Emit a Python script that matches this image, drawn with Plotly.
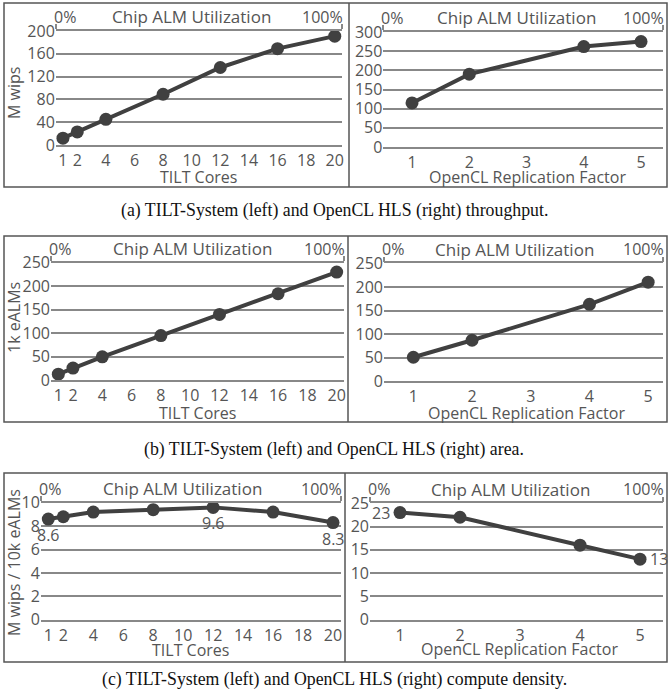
import plotly.graph_objects as go

W, H = 668, 698

# ---------------- data ----------------
tilt_cores = [1, 2, 4, 8, 12, 16, 20]
opencl_factor = [1, 2, 4, 5]

tilt_throughput = [12, 23, 45, 89, 136, 169, 191]        # M wips
opencl_throughput = [115, 190, 262, 275]                   # M wips
tilt_area = [13, 26, 50, 95, 140, 184, 230]                # 1k eALMs
opencl_area = [51, 87, 163, 210]                           # 1k eALMs
tilt_density = [8.6, 8.8, 9.2, 9.4, 9.6, 9.2, 8.3]         # M wips / 10k eALMs
opencl_density = [23, 22, 16, 13]

tilt_density_labels = ["8.6", "", "", "", "9.6", "", "8.3"]
opencl_density_labels = ["23", "", "", "13"]

tilt_ticks = [1, 2, 4, 6, 8, 10, 12, 14, 16, 18, 20]
opencl_ticks = [1, 2, 3, 4, 5]

left_ytitles = ["M wips", "1k eALMs", "M wips / 10k eALMs"]
xtitles = ["TILT Cores", "OpenCL Replication Factor"]
top_title = "Chip ALM Utilization"
top_ticktext = ["0%", "100%"]
captions = [
    "(a) TILT-System (left) and OpenCL HLS (right) throughput.",
    "(b) TILT-System (left) and OpenCL HLS (right) area.",
    "(c) TILT-System (left) and OpenCL HLS (right) compute density.",
]

# ---------------- layout geometry (pixels) ----------------
def px(x):
    return x / W

def py(y):
    return 1 - y / H

# (x0, x1, ytop, ybottom, xrange, yrange, yticks)
panels = [
    (55.8, 341.9, 31, 145, [0.5, 20.5], [0, 200], [0, 40, 80, 120, 160, 200]),
    (383.4, 663, 32, 147, [0.5, 5.384], [0, 300], [0, 50, 100, 150, 200, 250, 300]),
    (51.0, 344.0, 262.7, 380.3, [0.5, 20.5], [0, 250], [0, 50, 100, 150, 200, 250]),
    (384.0, 663, 263.3, 381.3, [0.5, 5.253], [0, 250], [0, 50, 100, 150, 200, 250]),
    (40.8, 340.5, 502.7, 619.7, [0.5, 20.5], [0, 10], [0, 2, 4, 6, 8, 10]),
    (370.0, 663, 503.3, 619.7, [0.5, 5.383], [0, 25], [0, 5, 10, 15, 20, 25]),
]
boxes = [(4, 667, 3, 187, 349), (4, 667, 236, 422, 348), (4, 667, 473, 662, 345)]
caption_y = [210, 449, 679]
ytitle_y = [93, 318, 563]
xtitle_pos = [(198, 177), (527, 177), (197, 413), (526, 413), (190, 650), (519, 649)]
toptitle_x = [191, 516, 192, 514, 182, 511]

GRAY = "#555555"
GRID = "#888888"
LINE = "#404040"
FONT = "Open Sans"
FS = 16

series = [
    (tilt_cores, tilt_throughput, None),
    (opencl_factor, opencl_throughput, None),
    (tilt_cores, tilt_area, None),
    (opencl_factor, opencl_area, None),
    (tilt_cores, tilt_density, tilt_density_labels),
    (opencl_factor, opencl_density, opencl_density_labels),
]

fig = go.Figure()
layout = dict(
    template="none",
    width=W, height=H, margin=dict(l=0, r=0, t=0, b=0, autoexpand=False),
    paper_bgcolor="white", plot_bgcolor="rgba(0,0,0,0)",
    showlegend=False, font=dict(family=FONT, size=FS, color=GRAY),
)
annotations = []
shapes = []

for i, (xs, ys, labels) in enumerate(series):
    n = i + 1
    sfx = "" if n == 1 else str(n)
    x0, x1, yt, yb, xr, yr, yt_vals = panels[i]
    fig.add_trace(go.Scatter(
        x=xs, y=ys, mode="lines+markers",
        line=dict(color=LINE, width=4),
        marker=dict(color=LINE, size=13),
        xaxis="x" + sfx, yaxis="y" + sfx, cliponaxis=False,
        hoverinfo="skip",
    ))
    if labels is not None:
        for xv, yv, lab in zip(xs, ys, labels):
            if not lab:
                continue
            if i == 4:
                a = dict(xanchor="center", yanchor="middle", yshift=-16, xshift=0)
            elif xv == xs[0]:
                a = dict(xanchor="right", yanchor="middle", xshift=-8, yshift=0)
            else:
                a = dict(xanchor="left", yanchor="middle", xshift=8, yshift=0)
            annotations.append(dict(text=lab, x=xv, y=yv, xref="x" + sfx, yref="y" + sfx,
                                    showarrow=False, font=dict(size=FS, color=GRAY), **a))

    is_left = (i % 2 == 0)
    layout["xaxis" + sfx] = dict(
        domain=[px(x0), min(px(x1), 1.0)], range=xr, anchor="y" + sfx, automargin=False,
        tickmode="array", tickvals=tilt_ticks if is_left else opencl_ticks,
        showgrid=False, zeroline=False, showline=True, linecolor=GRID, linewidth=1.5,
        ticks="", tickfont=dict(family=FONT, size=FS, color=GRAY), fixedrange=True,
    )
    layout["yaxis" + sfx] = dict(
        domain=[py(yb), py(yt)], range=yr, anchor="x" + sfx, automargin=False,
        tickmode="array", tickvals=yt_vals,
        showgrid=True, gridcolor=GRID, gridwidth=1.5, zeroline=False, showline=False,
        ticks="", tickfont=dict(family=FONT, size=FS, color=GRAY), fixedrange=True,
    )
    # top utilisation axis
    tn = str(n + 6)
    layout["xaxis" + tn] = dict(
        domain=[px(x0), min(px(x1), 1.0)], range=[0, 100], anchor="y" + sfx,
        overlaying="x" + sfx, side="top", automargin=False,
        tickmode="array", tickvals=[0, 100], showticklabels=False,
        ticks="outside", ticklen=5, tickwidth=1.5, tickcolor=GRID,
        showline=True, linecolor=GRID, linewidth=1.5, showgrid=False, zeroline=False,
        fixedrange=True,
    )
    fig.add_trace(go.Scatter(x=[None], y=[None], xaxis="x" + tn, yaxis="y" + sfx,
                             showlegend=False, hoverinfo="skip"))

    # top labels
    ytop_lbl = py(yt - 14)
    annotations.append(dict(text=top_ticktext[0], xref="x" + tn, yref="paper",
                            x=0, y=ytop_lbl, xanchor="left", yanchor="middle",
                            xshift=-4, showarrow=False, font=dict(size=FS, color=GRAY)))
    annotations.append(dict(text=top_ticktext[1], xref="x" + tn, yref="paper",
                            x=100, y=ytop_lbl, xanchor="right", yanchor="middle",
                            xshift=3, showarrow=False, font=dict(size=FS, color=GRAY)))
    annotations.append(dict(text=top_title, xref="paper", yref="paper",
                            x=px(toptitle_x[i]), y=ytop_lbl, xanchor="center", yanchor="middle",
                            showarrow=False, font=dict(size=FS + 1, color=GRAY)))
    # x title
    xtx, xty = xtitle_pos[i]
    annotations.append(dict(text=xtitles[0] if is_left else xtitles[1], xref="paper", yref="paper",
                            x=px(xtx), y=py(xty), xanchor="center", yanchor="middle",
                            showarrow=False, font=dict(size=FS, color=GRAY)))
    if is_left:
        annotations.append(dict(text=left_ytitles[i // 2], xref="paper", yref="paper",
                                x=px(14), y=py(ytitle_y[i // 2]), textangle=-90,
                                xanchor="center", yanchor="middle",
                                showarrow=False, font=dict(size=FS, color=GRAY)))

for (bx0, bx1, by0, by1, dv), cy, cap in zip(boxes, caption_y, captions):
    shapes.append(dict(type="rect", xref="paper", yref="paper",
                       x0=px(bx0), x1=px(bx1), y0=py(by1), y1=py(by0),
                       line=dict(color=GRAY, width=1.5), layer="below"))
    shapes.append(dict(type="line", xref="paper", yref="paper",
                       x0=px(dv), x1=px(dv), y0=py(by1), y1=py(by0),
                       line=dict(color=GRAY, width=1.5)))
    annotations.append(dict(text=cap, xref="paper", yref="paper", x=0.5, y=py(cy),
                            xanchor="center", yanchor="middle", showarrow=False,
                            font=dict(family="Liberation Serif", size=17.8, color="#111111")))

layout["annotations"] = annotations
layout["shapes"] = shapes
fig.update_layout(**layout)
fig.write_html("out.html", config={"displayModeBar": False},
               post_script="document.body.style.margin='0px';")
